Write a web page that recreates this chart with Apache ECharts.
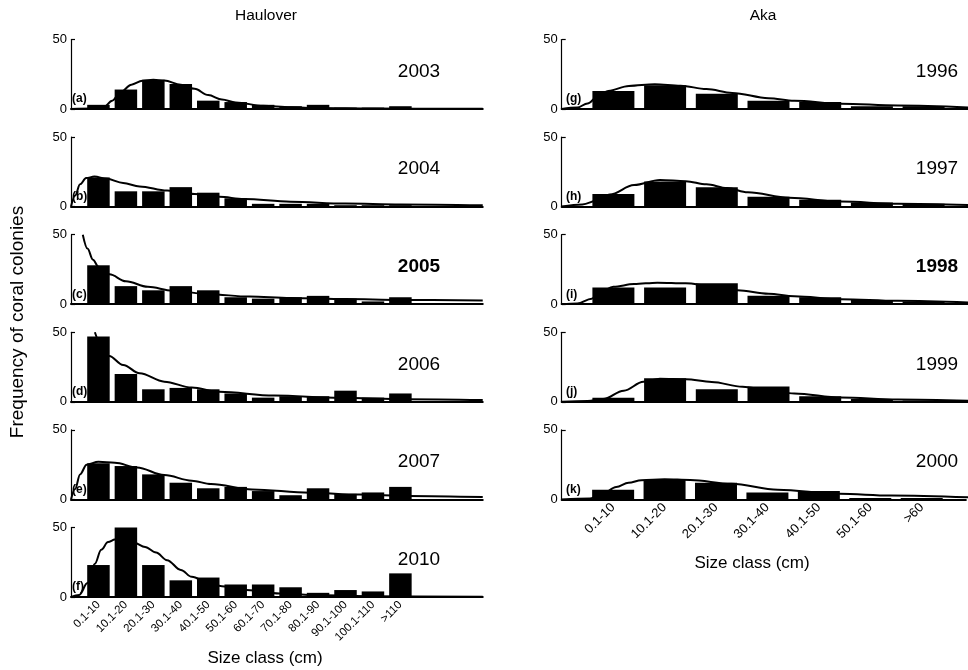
<!DOCTYPE html>
<html><head><meta charset="utf-8">
<script src="https://cdn.jsdelivr.net/npm/echarts@6/dist/echarts.min.js"></script>
<style>html,body{margin:0;padding:0;background:#fff}#c{width:968px;height:670px}</style>
</head><body><div id="c"></div>
<script>
// ---------- DATA ----------
const hauloverCategories = ['0.1-10','10.1-20','20.1-30','30.1-40','40.1-50','50.1-60','60.1-70','70.1-80','80.1-90','90.1-100','100.1-110','>110'];
const akaCategories = ['0.1-10','10.1-20','20.1-30','30.1-40','40.1-50','50.1-60','>60'];
const hauloverYears = ['2003','2004','2005','2006','2007','2010'];
const akaYears = ['1996','1997','1998','1999','2000'];
const hauloverLetters = ['(a)','(b)','(c)','(d)','(e)','(f)'];
const akaLetters = ['(g)','(h)','(i)','(j)','(k)'];
const yTicks = [0, 50];

// Haulover bar heights (frequency)
const h2003 = [3, 14, 21, 18, 6, 5, 3, 2, 3, 1, 1, 2];
const h2004 = [21, 11, 11, 14, 10, 6, 2, 2, 2, 1, 1, 1];
const h2005 = [28, 13, 10, 13, 10, 5, 4, 5, 6, 4, 2, 5];
const h2006 = [47, 20, 9, 10, 9, 6, 3, 4, 4, 8, 3, 6];
const h2007 = [26, 24, 18, 12, 8, 9, 6, 3, 8, 4, 5, 9];
const h2010 = [23, 50, 23, 12, 14, 9, 9, 7, 3, 5, 4, 17];
// Aka bar heights
const a1996 = [13, 17, 11, 6, 5, 2, 2];
const a1997 = [9, 18, 14, 7, 5, 3, 2];
const a1998 = [12, 12, 15, 6, 5, 3, 2];
const a1999 = [3, 17, 9, 11, 4, 2, 1];
const a2000 = [7, 14, 12, 5, 6, 1, 1];

// fitted curves: [class position, frequency]
const fit2003 = [[0,0],[0.8,0.3],[1.2,1.5],[1.5,6],[1.8,12],[2.2,17.5],[2.6,20.3],[3.0,21],[3.4,20.5],[4.0,17.5],[4.5,14.5],[5.0,10],[5.5,6.8],[6.0,4.7],[7.0,2.3],[8.0,1.2],[9.0,0.7],[11,0.3],[15,0.1]];
const fit2004 = [[0,0],[0.15,8],[0.33,16],[0.55,20.5],[0.85,21.6],[1.3,20],[1.9,17],[2.5,14.5],[3.5,11.5],[4.5,9],[5.4,7],[6.3,5.5],[8,3.5],[10,2.2],[12,1.5],[15,0.9]];
const fit2005 = [[0.43,50],[0.6,40],[0.8,32],[1.0,27],[1.4,21.5],[2.0,16.5],[2.8,12.5],[3.7,9.8],[5.0,7.2],[6.5,5.5],[8.0,4.5],[10,3.7],[12,3.1],[15,2.6]];
const fit2006 = [[0.87,50],[1.1,41],[1.39,33],[1.9,26.5],[2.5,20.5],[3.4,14.5],[4.4,10.2],[5.4,7.2],[7.4,4.5],[9.8,2.9],[12.2,1.9],[15,1.3]];
const fit2007 = [[0,0],[0.15,7.5],[0.33,18],[0.57,25],[1.0,27],[1.6,26.3],[2.4,23],[3.4,17.5],[4.4,13.5],[5.1,11],[6.6,7.2],[8.7,4.8],[10.5,3.5],[12.3,2.5],[15,1.7]];
const fit2010 = [[0,0],[0.3,1.5],[0.6,10],[0.87,24],[1.1,34],[1.35,39.5],[1.6,41.3],[1.9,41],[2.3,39],[2.7,36],[3.1,32],[3.5,26.5],[4.0,19.5],[4.4,14.5],[5.0,10],[5.5,7.8],[6.4,5],[7.6,2.5],[9.2,1.2],[11,0.5],[15,0.1]];
const fit1996 = [[0,0],[0.3,1],[0.5,4],[0.7,9],[0.9,13],[1.3,16.6],[1.8,17.8],[2.3,16.8],[2.8,14.3],[3.3,11.5],[4.0,7.8],[4.5,5.9],[5.4,3.8],[6.5,2.5],[7.9,1]];
const fit1997 = [[0,0],[0.4,1.5],[0.7,4.5],[0.93,8.7],[1.4,15.5],[1.9,19.1],[2.4,18.3],[2.8,16],[3.2,13.3],[3.6,10.3],[4.4,6.4],[5.4,3.6],[6.5,2.1],[7.9,1.1]];
const fit1998 = [[0,0],[0.3,0.5],[0.58,4],[0.75,9],[1.0,12.5],[1.4,14.5],[1.85,15.5],[2.4,15],[2.9,13],[3.4,10],[4.0,7.5],[4.5,5.8],[5.4,3.6],[6.5,2.4],[7.9,1.2]];
const fit1999 = [[0,0],[0.5,0.5],[0.8,2],[1.2,8],[1.58,14.4],[1.9,16.6],[2.4,16.2],[2.9,14.3],[3.5,10.8],[4.0,8.3],[4.5,6],[5.4,3.1],[6.5,1.7],[7.9,0.7]];
const fit2000 = [[0,0],[0.55,0.7],[0.8,4],[1.06,9],[1.3,12],[1.55,13.8],[2.0,14.5],[2.5,14],[3.3,11.2],[4.2,7],[5.4,4],[6.4,2.8],[7.9,1.5]];

const hauloverBars = [h2003, h2004, h2005, h2006, h2007, h2010];
const hauloverFits = [fit2003, fit2004, fit2005, fit2006, fit2007, fit2010];
const akaBars = [a1996, a1997, a1998, a1999, a2000];
const akaFits = [fit1996, fit1997, fit1998, fit1999, fit2000];
const boldYears = ['2005', '1998'];

// ---------- LAYOUT ----------
const FONT = '"Liberation Sans", Arial, Helvetica, sans-serif';
const PANEL_TOP0 = 39.5, PANEL_STEP = 97.6, PANEL_H = 69.5;
const COLS = [
  { left: 71, width: 411.75, max: 15, barWidth: 22.5, yearX: 419, letterX: 72, labelSize: 11.5 },
  { left: 561.7, width: 406.3, max: 406.3 / 51.7, barWidth: 42, yearX: 937, letterX: 566, labelSize: 13 }
];

const grids = [], xAxes = [], yAxes = [], series = [], graphics = [];

function addPanel(col, row, cats, values, fit, year, letter, isBottom) {
  const c = COLS[col];
  const idx = grids.length;
  const top = PANEL_TOP0 + PANEL_STEP * row;
  grids.push({ left: c.left, top: top, width: c.width, height: PANEL_H, containLabel: false });
  xAxes.push({
    type: 'value', gridIndex: idx, min: 0, max: c.max, interval: 1,
    axisLine: { show: true, onZero: false, lineStyle: { color: '#000', width: 2 } },
    axisTick: { show: false }, splitLine: { show: false },
    axisLabel: {
      show: isBottom, rotate: 45, color: '#000', fontSize: c.labelSize, fontFamily: FONT, margin: 6,
      showMinLabel: true, showMaxLabel: true,
      formatter: v => (Math.abs(v - Math.round(v)) < 1e-6 && v >= 1 && v <= cats.length) ? cats[Math.round(v) - 1] : ''
    }
  });
  yAxes.push({
    type: 'value', gridIndex: idx, min: yTicks[0], max: yTicks[yTicks.length - 1], interval: 50,
    axisLine: { show: true, lineStyle: { color: '#000', width: 1.2 } },
    axisTick: { show: true, inside: true, length: 4, lineStyle: { color: '#000', width: 1.2 } },
    splitLine: { show: false },
    axisLabel: { color: '#000', fontSize: 13, fontFamily: FONT, margin: 4 }
  });
  series.push({
    type: 'bar', xAxisIndex: idx, yAxisIndex: idx, barWidth: c.barWidth,
    data: values.map((v, i) => [i + 1, v]),
    itemStyle: { color: '#000' }, animation: false, silent: true
  });
  series.push({
    type: 'line', xAxisIndex: idx, yAxisIndex: idx, data: fit,
    smooth: 0.35, smoothMonotone: 'x', showSymbol: false, clip: true,
    lineStyle: { color: '#000', width: 2 }, animation: false, silent: true, z: 5
  });
  graphics.push({
    type: 'text', x: c.yearX, y: top + 32,
    style: { text: year, font: (boldYears.includes(year) ? 'bold ' : '') + '19px ' + FONT, fill: '#000', textAlign: 'center', textVerticalAlign: 'middle' }
  });
  graphics.push({
    type: 'text', x: c.letterX, y: top + PANEL_H - 10,
    style: { text: letter, font: 'bold 12px ' + FONT, fill: '#000', textAlign: 'left', textVerticalAlign: 'middle' }, z: 10
  });
}

hauloverYears.forEach((y, i) => addPanel(0, i, hauloverCategories, hauloverBars[i], hauloverFits[i], y, hauloverLetters[i], i === hauloverYears.length - 1));
akaYears.forEach((y, i) => addPanel(1, i, akaCategories, akaBars[i], akaFits[i], y, akaLetters[i], i === akaYears.length - 1));

graphics.push({ type: 'text', x: 266, y: 16, style: { text: 'Haulover', font: '15.5px ' + FONT, fill: '#000', textAlign: 'center', textVerticalAlign: 'middle' } });
graphics.push({ type: 'text', x: 763, y: 16, style: { text: 'Aka', font: '15.5px ' + FONT, fill: '#000', textAlign: 'center', textVerticalAlign: 'middle' } });
graphics.push({ type: 'text', x: 265, y: 658, style: { text: 'Size class (cm)', font: '17px ' + FONT, fill: '#000', textAlign: 'center', textVerticalAlign: 'middle' } });
graphics.push({ type: 'text', x: 752, y: 563, style: { text: 'Size class (cm)', font: '17px ' + FONT, fill: '#000', textAlign: 'center', textVerticalAlign: 'middle' } });
graphics.push({ type: 'text', x: 18, y: 322, rotation: Math.PI / 2, style: { text: 'Frequency of coral colonies', font: '19px ' + FONT, fill: '#000', textAlign: 'center', textVerticalAlign: 'middle' } });

const chart = echarts.init(document.getElementById('c'), null, { renderer: 'canvas' });
chart.setOption({
  backgroundColor: '#fff',
  animation: false,
  grid: grids, xAxis: xAxes, yAxis: yAxes, series: series,
  graphic: graphics
});
</script>
</body></html>
